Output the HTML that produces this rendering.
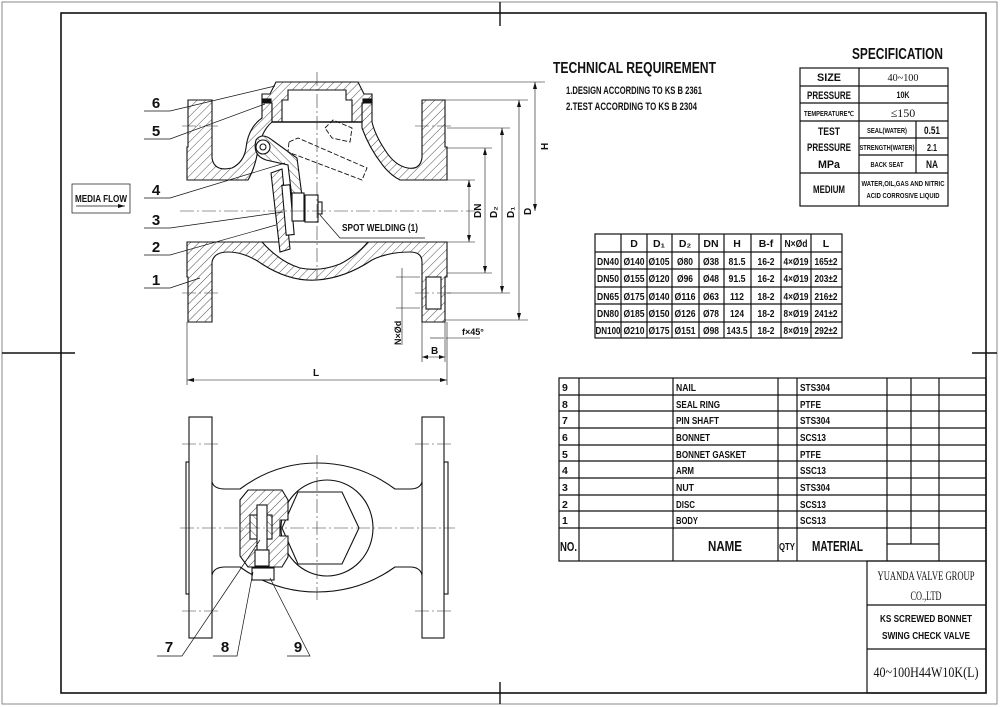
<!DOCTYPE html>
<html><head><meta charset="utf-8"><style>
html,body{margin:0;padding:0;background:#fff}
svg{display:block}
text{font-family:"Liberation Sans Narrow","Liberation Sans",sans-serif;font-weight:bold;fill:#111}
.s{font-family:"Liberation Serif",serif;font-weight:normal}
</style></head><body>
<svg width="1000" height="707" viewBox="0 0 1000 707" xmlns="http://www.w3.org/2000/svg">
<defs>
<pattern id="h" width="6" height="6" patternUnits="userSpaceOnUse" patternTransform="rotate(45)">
<rect width="6" height="6" fill="#fff"/><line x1="0" y1="0" x2="0" y2="6" stroke="#222" stroke-width="0.8"/>
</pattern>
<pattern id="h2" width="6" height="6" patternUnits="userSpaceOnUse" patternTransform="rotate(-45)">
<rect width="6" height="6" fill="#fff"/><line x1="0" y1="0" x2="0" y2="6" stroke="#222" stroke-width="0.8"/>
</pattern>
</defs>
<rect x="2" y="2" width="995" height="702" fill="none" stroke="#888" stroke-width="1"/>
<rect x="61" y="13" width="925" height="680" fill="none" stroke="#111" stroke-width="1.6"/>
<g stroke="#111" stroke-width="1.4">
<line x1="500" y1="2" x2="500" y2="26"/><line x1="500" y1="682" x2="500" y2="704"/>
<line x1="2" y1="353" x2="75" y2="353"/><line x1="972" y1="353" x2="997" y2="353"/>
</g>

<g lengthAdjust="spacingAndGlyphs">
<text x="553" y="73" font-size="16" textLength="163" lengthAdjust="spacingAndGlyphs">TECHNICAL REQUIREMENT</text>
<text x="566" y="94" font-size="11" textLength="136" lengthAdjust="spacingAndGlyphs">1.DESIGN ACCORDING TO KS B 2361</text>
<text x="566" y="110" font-size="11" textLength="131" lengthAdjust="spacingAndGlyphs">2.TEST ACCORDING TO KS B 2304</text>
<text x="852" y="59" font-size="16" textLength="91" lengthAdjust="spacingAndGlyphs">SPECIFICATION</text>
</g>

<g stroke="#111" stroke-width="1.2" fill="none">
<rect x="800" y="68" width="148" height="138"/>
<line x1="859" y1="68" x2="859" y2="206"/>
<line x1="800" y1="86" x2="948" y2="86"/><line x1="800" y1="103" x2="948" y2="103"/>
<line x1="800" y1="121" x2="948" y2="121"/><line x1="859" y1="138" x2="948" y2="138"/>
<line x1="859" y1="155" x2="948" y2="155"/><line x1="800" y1="173" x2="948" y2="173"/>
<line x1="916" y1="121" x2="916" y2="173"/>
</g>
<g text-anchor="middle">
<text x="829" y="81" font-size="11" textLength="24" lengthAdjust="spacingAndGlyphs">SIZE</text>
<text x="829" y="99" font-size="11" textLength="44" lengthAdjust="spacingAndGlyphs">PRESSURE</text>
<text x="829" y="116" font-size="7" textLength="50" lengthAdjust="spacingAndGlyphs">TEMPERATURE℃</text>
<text x="829" y="135" font-size="11" textLength="22" lengthAdjust="spacingAndGlyphs">TEST</text>
<text x="829" y="151" font-size="11" textLength="44" lengthAdjust="spacingAndGlyphs">PRESSURE</text>
<text x="829" y="168" font-size="11" textLength="22" lengthAdjust="spacingAndGlyphs">MPa</text>
<text x="829" y="193" font-size="11" textLength="32" lengthAdjust="spacingAndGlyphs">MEDIUM</text>
<text x="903" y="81" font-size="11" class="s" textLength="31" lengthAdjust="spacingAndGlyphs">40~100</text>
<text x="903" y="98" font-size="9" textLength="13" lengthAdjust="spacingAndGlyphs">10K</text>
<text x="903" y="117" font-size="12" class="s">≤150</text>
<text x="887" y="133" font-size="7" textLength="40" lengthAdjust="spacingAndGlyphs">SEAL(WATER)</text>
<text x="887" y="150" font-size="7" textLength="55" lengthAdjust="spacingAndGlyphs">STRENGTH(WATER)</text>
<text x="887" y="167" font-size="7" textLength="33" lengthAdjust="spacingAndGlyphs">BACK SEAT</text>
<text x="932" y="134" font-size="11" textLength="16" lengthAdjust="spacingAndGlyphs">0.51</text>
<text x="932" y="151" font-size="10" textLength="10" lengthAdjust="spacingAndGlyphs">2.1</text>
<text x="932" y="168" font-size="11" textLength="12" lengthAdjust="spacingAndGlyphs">NA</text>
<text x="903" y="186" font-size="7" textLength="83" lengthAdjust="spacingAndGlyphs">WATER,OIL,GAS AND NITRIC</text>
<text x="903" y="198" font-size="7" textLength="73" lengthAdjust="spacingAndGlyphs">ACID CORROSIVE LIQUID</text>
</g>

<g stroke="#111" stroke-width="1.2" fill="none">
<rect x="595" y="234" width="247" height="104"/>
<line x1="595" y1="252" x2="842" y2="252"/><line x1="595" y1="269" x2="842" y2="269"/>
<line x1="595" y1="287" x2="842" y2="287"/><line x1="595" y1="304" x2="842" y2="304"/>
<line x1="595" y1="322" x2="842" y2="322"/>
<line x1="621" y1="234" x2="621" y2="338"/><line x1="647" y1="234" x2="647" y2="338"/>
<line x1="672" y1="234" x2="672" y2="338"/><line x1="699" y1="234" x2="699" y2="338"/>
<line x1="724" y1="234" x2="724" y2="338"/><line x1="751" y1="234" x2="751" y2="338"/>
<line x1="781" y1="234" x2="781" y2="338"/><line x1="811" y1="234" x2="811" y2="338"/>
</g>
<g text-anchor="middle" font-size="10.5" font-weight="normal">
<text x="634" y="247">D</text><text x="659" y="247">D₁</text><text x="685" y="247">D₂</text><text x="711" y="247">DN</text><text x="737" y="247">H</text><text x="766" y="247">B-f</text><text x="796" y="247" textLength="23" lengthAdjust="spacingAndGlyphs">N×Ød</text><text x="826" y="247">L</text>
</g>
<g text-anchor="middle" font-size="10.5">
<text x="608" y="265" textLength="22" lengthAdjust="spacingAndGlyphs">DN40</text><text x="634" y="265" textLength="21" lengthAdjust="spacingAndGlyphs">Ø140</text><text x="659" y="265" textLength="21" lengthAdjust="spacingAndGlyphs">Ø105</text><text x="685" y="265" textLength="16" lengthAdjust="spacingAndGlyphs">Ø80</text><text x="711" y="265" textLength="16" lengthAdjust="spacingAndGlyphs">Ø38</text><text x="737" y="265" textLength="17" lengthAdjust="spacingAndGlyphs">81.5</text><text x="766" y="265" textLength="17" lengthAdjust="spacingAndGlyphs">16-2</text><text x="796" y="265" textLength="25" lengthAdjust="spacingAndGlyphs">4×Ø19</text><text x="826" y="265" textLength="23" lengthAdjust="spacingAndGlyphs">165±2</text>
<text x="608" y="282" textLength="22" lengthAdjust="spacingAndGlyphs">DN50</text><text x="634" y="282" textLength="21" lengthAdjust="spacingAndGlyphs">Ø155</text><text x="659" y="282" textLength="21" lengthAdjust="spacingAndGlyphs">Ø120</text><text x="685" y="282" textLength="16" lengthAdjust="spacingAndGlyphs">Ø96</text><text x="711" y="282" textLength="16" lengthAdjust="spacingAndGlyphs">Ø48</text><text x="737" y="282" textLength="17" lengthAdjust="spacingAndGlyphs">91.5</text><text x="766" y="282" textLength="17" lengthAdjust="spacingAndGlyphs">16-2</text><text x="796" y="282" textLength="25" lengthAdjust="spacingAndGlyphs">4×Ø19</text><text x="826" y="282" textLength="23" lengthAdjust="spacingAndGlyphs">203±2</text>
<text x="608" y="300" textLength="22" lengthAdjust="spacingAndGlyphs">DN65</text><text x="634" y="300" textLength="21" lengthAdjust="spacingAndGlyphs">Ø175</text><text x="659" y="300" textLength="21" lengthAdjust="spacingAndGlyphs">Ø140</text><text x="685" y="300" textLength="21" lengthAdjust="spacingAndGlyphs">Ø116</text><text x="711" y="300" textLength="16" lengthAdjust="spacingAndGlyphs">Ø63</text><text x="737" y="300" textLength="14" lengthAdjust="spacingAndGlyphs">112</text><text x="766" y="300" textLength="17" lengthAdjust="spacingAndGlyphs">18-2</text><text x="796" y="300" textLength="25" lengthAdjust="spacingAndGlyphs">4×Ø19</text><text x="826" y="300" textLength="23" lengthAdjust="spacingAndGlyphs">216±2</text>
<text x="608" y="317" textLength="22" lengthAdjust="spacingAndGlyphs">DN80</text><text x="634" y="317" textLength="21" lengthAdjust="spacingAndGlyphs">Ø185</text><text x="659" y="317" textLength="21" lengthAdjust="spacingAndGlyphs">Ø150</text><text x="685" y="317" textLength="21" lengthAdjust="spacingAndGlyphs">Ø126</text><text x="711" y="317" textLength="16" lengthAdjust="spacingAndGlyphs">Ø78</text><text x="737" y="317" textLength="14" lengthAdjust="spacingAndGlyphs">124</text><text x="766" y="317" textLength="17" lengthAdjust="spacingAndGlyphs">18-2</text><text x="796" y="317" textLength="25" lengthAdjust="spacingAndGlyphs">8×Ø19</text><text x="826" y="317" textLength="23" lengthAdjust="spacingAndGlyphs">241±2</text>
<text x="608" y="334" textLength="25" lengthAdjust="spacingAndGlyphs">DN100</text><text x="634" y="334" textLength="21" lengthAdjust="spacingAndGlyphs">Ø210</text><text x="659" y="334" textLength="21" lengthAdjust="spacingAndGlyphs">Ø175</text><text x="685" y="334" textLength="21" lengthAdjust="spacingAndGlyphs">Ø151</text><text x="711" y="334" textLength="16" lengthAdjust="spacingAndGlyphs">Ø98</text><text x="737" y="334" textLength="21" lengthAdjust="spacingAndGlyphs">143.5</text><text x="766" y="334" textLength="17" lengthAdjust="spacingAndGlyphs">18-2</text><text x="796" y="334" textLength="25" lengthAdjust="spacingAndGlyphs">8×Ø19</text><text x="826" y="334" textLength="23" lengthAdjust="spacingAndGlyphs">292±2</text>
</g>

<g stroke="#111" stroke-width="1.2" fill="none">
<rect x="559" y="378" width="427" height="183"/>
<line x1="559" y1="395" x2="986" y2="395"/><line x1="559" y1="411" x2="986" y2="411"/>
<line x1="559" y1="428" x2="986" y2="428"/><line x1="559" y1="445" x2="986" y2="445"/>
<line x1="559" y1="461" x2="986" y2="461"/><line x1="559" y1="478" x2="986" y2="478"/>
<line x1="559" y1="495" x2="986" y2="495"/><line x1="559" y1="511" x2="986" y2="511"/>
<line x1="559" y1="528" x2="986" y2="528"/>
<line x1="579" y1="378" x2="579" y2="561"/><line x1="673" y1="378" x2="673" y2="561"/>
<line x1="778" y1="378" x2="778" y2="561"/><line x1="797" y1="378" x2="797" y2="561"/>
<line x1="887" y1="378" x2="887" y2="561"/><line x1="939" y1="378" x2="939" y2="561"/>
<line x1="911" y1="378" x2="911" y2="544"/><line x1="887" y1="544" x2="939" y2="544"/>
<rect x="867" y="561" width="119" height="132"/>
<line x1="867" y1="605" x2="986" y2="605"/><line x1="867" y1="649" x2="986" y2="649"/>
</g>
<g font-size="10.5">
<text x="562" y="391">9</text><text x="562" y="408">8</text><text x="562" y="424">7</text><text x="562" y="441">6</text><text x="562" y="458">5</text><text x="562" y="474">4</text><text x="562" y="491">3</text><text x="562" y="508">2</text><text x="562" y="524">1</text>
<text x="676" y="391" textLength="20" lengthAdjust="spacingAndGlyphs">NAIL</text><text x="676" y="408" textLength="44" lengthAdjust="spacingAndGlyphs">SEAL RING</text><text x="676" y="424" textLength="43" lengthAdjust="spacingAndGlyphs">PIN SHAFT</text><text x="676" y="441" textLength="34" lengthAdjust="spacingAndGlyphs">BONNET</text><text x="676" y="458" textLength="70" lengthAdjust="spacingAndGlyphs">BONNET GASKET</text><text x="676" y="474" textLength="18" lengthAdjust="spacingAndGlyphs">ARM</text><text x="676" y="491" textLength="18" lengthAdjust="spacingAndGlyphs">NUT</text><text x="676" y="508" textLength="19" lengthAdjust="spacingAndGlyphs">DISC</text><text x="676" y="524" textLength="22" lengthAdjust="spacingAndGlyphs">BODY</text>
<text x="800" y="391" textLength="30" lengthAdjust="spacingAndGlyphs">STS304</text><text x="800" y="408" textLength="21" lengthAdjust="spacingAndGlyphs">PTFE</text><text x="800" y="424" textLength="30" lengthAdjust="spacingAndGlyphs">STS304</text><text x="800" y="441" textLength="26" lengthAdjust="spacingAndGlyphs">SCS13</text><text x="800" y="458" textLength="21" lengthAdjust="spacingAndGlyphs">PTFE</text><text x="800" y="474" textLength="26" lengthAdjust="spacingAndGlyphs">SSC13</text><text x="800" y="491" textLength="30" lengthAdjust="spacingAndGlyphs">STS304</text><text x="800" y="508" textLength="26" lengthAdjust="spacingAndGlyphs">SCS13</text><text x="800" y="524" textLength="26" lengthAdjust="spacingAndGlyphs">SCS13</text>
<text x="560" y="551" font-size="13" textLength="17" lengthAdjust="spacingAndGlyphs">NO.</text>
<text x="708" y="551" font-size="15" textLength="34" lengthAdjust="spacingAndGlyphs">NAME</text>
<text x="779" y="550" font-size="10" textLength="16" lengthAdjust="spacingAndGlyphs">QTY</text>
<text x="812" y="551" font-size="15" textLength="51" lengthAdjust="spacingAndGlyphs">MATERIAL</text>
</g>
<g text-anchor="middle">
<text x="926" y="580" font-size="13" class="s" textLength="97" lengthAdjust="spacingAndGlyphs">YUANDA VALVE GROUP</text>
<text x="926" y="600" font-size="13" class="s" textLength="31" lengthAdjust="spacingAndGlyphs">CO.,LTD</text>
<text x="926" y="622" font-size="10" textLength="92" lengthAdjust="spacingAndGlyphs">KS SCREWED BONNET</text>
<text x="926" y="639" font-size="10" textLength="88" lengthAdjust="spacingAndGlyphs">SWING CHECK VALVE</text>
<text x="926" y="677" font-size="15" class="s" textLength="105" lengthAdjust="spacingAndGlyphs">40~100H44W10K(L)</text>
</g>

<g stroke="#111" stroke-width="1.1">
<path fill="url(#h)" fill-rule="evenodd" d="M187,180 V147 H188 V100 H212 V158 Q214,172 232,168 Q244,162 246,148 Q248,128 262,118 V103 H272 V122 Q262,130 258,150 Q255,168 248,180 Z M447,180 V147 H445 V100 H422 V158 Q420,170 408,168 Q395,166 385,150 Q375,135 372,122 V103 H362 V128 Q370,150 385,168 Q392,176 400,180 Z"/>
<path fill="url(#h)" fill-rule="evenodd" d="M187,242 V277 H188 V322 H212 V262 Q214,252 228,252 Q245,252 262,264 Q290,282 317,280 Q345,278 372,260 Q388,252 410,252 Q422,252 422,262 V322 H445 V277 H447 V242 Z M262,242 Q280,262 300,268 Q320,272 340,264 Q356,256 368,242 Z"/>
<rect x="426" y="277" width="15" height="32" fill="#fff" stroke="#111"/>
<path fill="url(#h)" d="M262,103 V94 H270 L276,82 H358 L364,94 H372 V103 H362 V122 H352 V100 H346 V90 H288 V100 H282 V122 H272 V103 Z"/>
<line x1="272" y1="122" x2="362" y2="122" stroke-width="1.4"/>
<rect x="262" y="99" width="9" height="3" fill="#111"/><rect x="363" y="99" width="9" height="3" fill="#111"/>
<path fill="url(#h2)" d="M256,140 Q262,132 272,140 L297,158 L302,196 L292,198 L288,165 L266,160 Q252,155 256,140 Z"/>
<circle cx="263" cy="147" r="7" fill="#fff"/><circle cx="263" cy="147" r="3" fill="none"/>
<path fill="url(#h)" d="M271,173 L282,169 L290,249 L280,252 Z"/>
<rect x="284" y="185" width="8" height="50" fill="#fff" transform="rotate(-5 288 210)"/>
<rect x="292" y="193" width="12" height="28" fill="#fff"/>
<rect x="305" y="195" width="13" height="27" fill="#fff"/>
<rect x="318" y="202" width="4" height="12" fill="#fff"/>
<g fill="none" stroke-dasharray="5,2" stroke-width="0.9">
<path d="M289,142 L298,138 L367,168 L362,180 L288,152 Z"/>
<path d="M325,128 L333,120 L352,128 L350,142 L332,138 Z"/>
</g>
</g>
<g stroke="#333" stroke-width="0.6" stroke-dasharray="14,3,2,3" fill="none">
<line x1="317" y1="72" x2="317" y2="280"/>
<line x1="180" y1="211" x2="475" y2="211"/>
<line x1="182" y1="126" x2="220" y2="126"/><line x1="415" y1="126" x2="452" y2="126"/>
<line x1="182" y1="293" x2="220" y2="293"/><line x1="415" y1="293" x2="452" y2="293"/>
</g>
<g stroke="#111" stroke-width="0.6" fill="none">
<line x1="358" y1="82" x2="545" y2="82"/><line x1="445" y1="100" x2="528" y2="100"/>
<line x1="447" y1="128" x2="510" y2="128"/><line x1="447" y1="148" x2="492" y2="148"/>
<line x1="447" y1="180" x2="475" y2="180"/><line x1="447" y1="242" x2="475" y2="242"/>
<line x1="447" y1="273" x2="492" y2="273"/><line x1="447" y1="293" x2="510" y2="293"/>
<line x1="445" y1="320" x2="528" y2="320"/>
<line x1="469" y1="180" x2="469" y2="242"/><line x1="485" y1="148" x2="485" y2="273"/>
<line x1="502" y1="128" x2="502" y2="293"/><line x1="519" y1="100" x2="519" y2="320"/>
<line x1="535" y1="82" x2="535" y2="211"/>
<line x1="187" y1="322" x2="187" y2="385"/><line x1="447" y1="322" x2="447" y2="385"/>
<line x1="187" y1="380" x2="447" y2="380"/>
<line x1="422" y1="322" x2="422" y2="362"/><line x1="445" y1="322" x2="445" y2="362"/>
<line x1="422" y1="357" x2="445" y2="357"/>
<line x1="402" y1="268" x2="402" y2="345"/><line x1="396" y1="277" x2="420" y2="277"/><line x1="396" y1="308" x2="420" y2="308"/>
<line x1="430" y1="338" x2="444" y2="338"/><line x1="446" y1="338" x2="480" y2="338"/>
</g>
<g fill="#111">
<path d="M469,180 l-2,7 h4z"/><path d="M469,242 l-2,-7 h4z"/>
<path d="M485,148 l-2,7 h4z"/><path d="M485,273 l-2,-7 h4z"/>
<path d="M502,128 l-2,7 h4z"/><path d="M502,293 l-2,-7 h4z"/>
<path d="M519,100 l-2,7 h4z"/><path d="M519,320 l-2,-7 h4z"/>
<path d="M535,82 l-2,7 h4z"/><path d="M535,211 l-2,-7 h4z"/>
<path d="M187,380 l7,-2 v4z"/><path d="M447,380 l-7,-2 v4z"/>
<path d="M422,357 l6,-2 v4z"/><path d="M445,357 l-6,-2 v4z"/>
</g>
<g font-size="10" font-weight="normal">
<text transform="translate(481,218) rotate(-90)">DN</text>
<text transform="translate(497,218) rotate(-90)">D₂</text>
<text transform="translate(514,218) rotate(-90)">D₁</text>
<text transform="translate(531,215) rotate(-90)">D</text>
<text transform="translate(548,150) rotate(-90)">H</text>
<text transform="translate(401,345) rotate(-90)" font-size="9">N×Ød</text>
<text x="462" y="335" font-size="9">f×45°</text>
<text x="431" y="354">B</text>
<text x="313" y="376">L</text>
</g>
<g stroke="#111" stroke-width="0.7" fill="none">
<polyline points="144,111 170,111 275,86"/>
<polyline points="144,139 170,139 265,104"/>
<polyline points="144,198 170,198 285,163"/>
<polyline points="144,228 170,228 283,212"/>
<polyline points="144,255 170,255 276,225"/>
<polyline points="144,288 170,288 200,278"/>
<polyline points="320,215 340,238 425,238"/>
<rect x="72" y="184" width="58" height="29"/>
<line x1="76" y1="206" x2="125" y2="206"/>
</g>
<path d="M125,206 l-7,-2 v4z" fill="#111"/>
<g font-size="15" font-weight="normal" text-anchor="middle">
<text x="156" y="108">6</text><text x="156" y="136">5</text><text x="156" y="195">4</text>
<text x="156" y="225">3</text><text x="156" y="252">2</text><text x="156" y="285">1</text>
</g>
<text x="101" y="202" font-size="10" text-anchor="middle" textLength="52" lengthAdjust="spacingAndGlyphs">MEDIA FLOW</text>
<text x="342" y="231" font-size="10" textLength="76" lengthAdjust="spacingAndGlyphs">SPOT WELDING (1)</text>

<g stroke="#111" stroke-width="1.1" fill="#fff">
<rect x="186" y="462" width="4" height="132"/><rect x="444" y="462" width="4" height="132"/>
<rect x="189" y="417" width="23" height="221"/>
<rect x="422" y="417" width="22" height="221"/>
<path d="M212,482 Q214,489 225,489 H240 Q275,463 317,463 Q360,463 395,489 H410 Q420,489 422,482 V575 Q420,567 410,567 H395 Q360,592 317,592 Q275,592 240,567 H225 Q214,567 212,575 Z"/>
<ellipse cx="327" cy="528" rx="46" ry="48"/>
<polygon points="298,492 342,492 359,528 342,564 298,564 282,528"/>
<path fill="url(#h)" d="M248,490 H282 L288,500 V520 H280 V536 H288 V557 L282,567 H248 L240,556 V500 Z"/>
<rect x="250" y="515" width="22" height="24" fill="url(#h2)"/>
<rect x="257" y="505" width="10" height="45"/>
<rect x="255" y="550" width="14" height="16"/>
<rect x="252" y="568" width="22" height="12"/>
</g>
<g stroke="#333" stroke-width="0.6" stroke-dasharray="14,3,2,3" fill="none">
<line x1="317" y1="455" x2="317" y2="600"/>
<line x1="180" y1="528" x2="455" y2="528"/>
<line x1="182" y1="444" x2="220" y2="444"/><line x1="415" y1="444" x2="452" y2="444"/>
<line x1="182" y1="611" x2="220" y2="611"/><line x1="415" y1="611" x2="452" y2="611"/>
</g>
<g stroke="#111" stroke-width="0.7" fill="none">
<polyline points="157,656 182,656 260,540"/>
<polyline points="213,656 237,656 253,572"/>
<polyline points="287,656 310,656 270,578"/>
</g>
<g font-size="15" font-weight="normal" text-anchor="middle">
<text x="169" y="652">7</text><text x="225" y="652">8</text><text x="298" y="652">9</text>
</g>
</svg>
</body></html>
